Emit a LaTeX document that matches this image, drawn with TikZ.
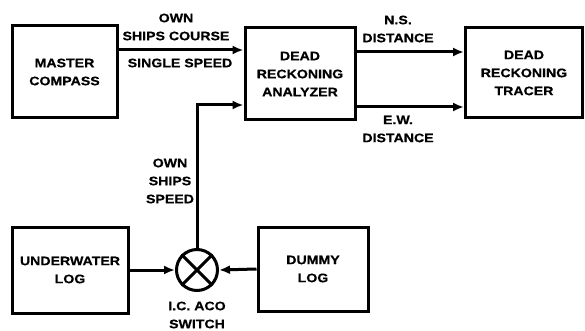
\documentclass[tikz,border=0pt]{standalone}
\usepackage{fontspec}
\setmainfont{Liberation Sans}
\newfontfamily\lblfont[FakeStretch=1.15,FakeBold=0.6]{Liberation Sans Bold}
\usetikzlibrary{arrows.meta,calc}
\begin{document}
\begin{tikzpicture}[x=1pt,y=-1pt,
  box/.style={draw,line width=3pt,minimum width=#1,inner sep=0pt,align=center,font=\lbl},
  lab/.style={align=center,font=\lbl,inner sep=0pt},
  wire/.style={line width=3pt},
  arr/.style={wire,-{Latex[length=11pt,width=9pt]}}]
\newcommand{\lbl}{\lblfont\fontsize{12.3}{18}\selectfont}
\useasboundingbox (0,0) rectangle (585,331);
\node[box=105pt,minimum height=92pt] (master) at (64.5,72) {MASTER\\COMPASS};
\node[box=110pt,minimum height=92pt] (analyzer) at (300,74) {DEAD\\RECKONING\\ANALYZER};
\node[box=117pt,minimum height=90pt] (tracer) at (524,73) {DEAD\\RECKONING\\TRACER};
\node[box=116pt,minimum height=86pt] (uwlog) at (70,270) {UNDERWATER\\LOG};
\node[box=110pt,minimum height=84pt] (dummy) at (313,269) {DUMMY\\LOG};
\node[draw,circle,line width=3pt,minimum size=41pt,inner sep=0pt] (sw) at (197,270) {};
\draw[wire] (sw.north east) -- (sw.south west) (sw.north west) -- (sw.south east);
\coordinate (y1) at (0,50);
\coordinate (y2) at (0,52);
\coordinate (y3) at (0,107);
\coordinate (y4) at (0,105);
\draw[arr] (y1 -| master.east) -- (y1 -| analyzer.west);
\draw[arr] (y2 -| analyzer.east) -- (y2 -| tracer.west);
\draw[arr] (y3 -| analyzer.east) -- (y3 -| tracer.west);
\draw[arr] (sw.north) |- (y4 -| analyzer.west);
\draw[arr] (uwlog.east) -- (sw.west);
\draw[arr] (dummy.west) -- (sw.east);
\node[lab] (l1) at (176,27) {OWN\\SHIPS COURSE};
\node[lab] (l2) at (180,63) {SINGLE SPEED};
\node[lab] (l3) at (398,29) {N.S.\\DISTANCE};
\node[lab] (l4) at (398,129) {E.W.\\DISTANCE};
\node[lab] (l5) at (170,181) {OWN\\SHIPS\\SPEED};
\node[lab] (l6) at (197,315) {I.C. ACO\\SWITCH};
\end{tikzpicture}
\end{document}
